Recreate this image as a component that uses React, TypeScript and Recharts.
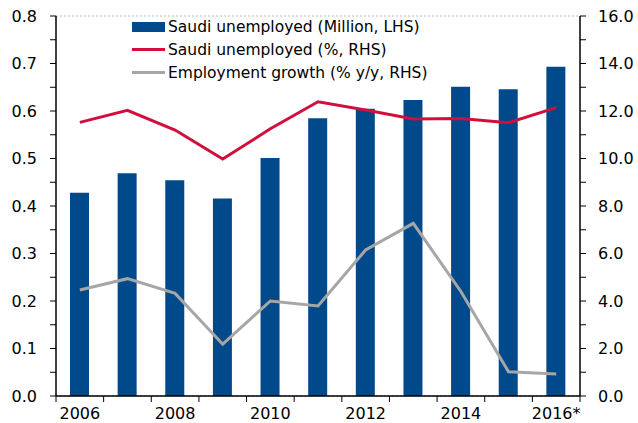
import { ComposedChart, Bar, Line, XAxis, YAxis, CartesianGrid, Legend } from 'recharts';

const years = ['2006', '2007', '2008', '2009', '2010', '2011', '2012', '2013', '2014', '2015', '2016'];
const yearLabels = ['2006', '', '2008', '', '2010', '', '2012', '', '2014', '', '2016*'];

// Saudi unemployed, million (LHS)
const unemployedMn = [0.428, 0.469, 0.454, 0.416, 0.501, 0.585, 0.605, 0.623, 0.651, 0.646, 0.693];
// Saudi unemployment rate, % (RHS)
const unemployedPct = [11.52, 12.03, 11.2, 9.98, 11.25, 12.39, 12.04, 11.66, 11.68, 11.51, 12.14];
// Employment growth, % y/y (RHS)
const employmentGrowth = [4.46, 4.94, 4.32, 2.18, 4.0, 3.79, 6.15, 7.27, 4.4, 1.02, 0.93];

const leftTicks = [0, 0.05, 0.1, 0.15, 0.2, 0.25, 0.3, 0.35, 0.4, 0.45, 0.5, 0.55, 0.6, 0.65, 0.7, 0.75, 0.8];
const rightTicks = [0, 1, 2, 3, 4, 5, 6, 7, 8, 9, 10, 11, 12, 13, 14, 15, 16];
const gridValues = [0, 0.1, 0.2, 0.3, 0.4, 0.5, 0.6, 0.7, 0.8];

const data = years.map((year, i) => ({
  year,
  unemployedMn: unemployedMn[i],
  unemployedPct: unemployedPct[i],
  employmentGrowth: employmentGrowth[i],
}));

const BLUE = '#004A8C';
const RED = '#D20F3C';
const GRAY = '#A6A6A6';
const FONT = '"DejaVu Sans", Verdana, sans-serif';

const legendItems = [
  { label: 'Saudi unemployed (Million, LHS)', color: BLUE, type: 'bar' },
  { label: 'Saudi unemployed (%, RHS)', color: RED, type: 'line' },
  { label: 'Employment growth (% y/y, RHS)', color: GRAY, type: 'line' },
];

function LeftTick(props: any) {
  const { x, y, payload, index } = props;
  if (index % 2 !== 0) return null;
  return (
    <text x={x} y={y} dy="0.36em" textAnchor="end" fontSize={16} fontFamily={FONT} fill="#000">
      {payload.value.toFixed(1)}
    </text>
  );
}

function RightTick(props: any) {
  const { x, y, payload, index } = props;
  if (index % 2 !== 0) return null;
  return (
    <text x={x} y={y} dy="0.36em" textAnchor="start" fontSize={16} fontFamily={FONT} fill="#000">
      {payload.value.toFixed(1)}
    </text>
  );
}

function YearTick(props: any) {
  const { x, y, payload, index } = props;
  const half = payload.offset || 23.8;
  const axisY = y - 12;
  return (
    <g>
      <line x1={x - half} x2={x - half} y1={axisY} y2={axisY + 6} stroke="#000" strokeWidth={1} />
      {index === years.length - 1 && (
        <line x1={x + half} x2={x + half} y1={axisY} y2={axisY + 6} stroke="#000" strokeWidth={1} />
      )}
      <text x={x} y={y} dy="0.71em" textAnchor="middle" fontSize={16} fontFamily={FONT} fill="#000">
        {yearLabels[index]}
      </text>
    </g>
  );
}

function LegendBox() {
  return (
    <div style={{ fontFamily: FONT, fontSize: 15.5, color: '#000' }}>
      {legendItems.map((item) => (
        <div key={item.label} style={{ display: 'flex', alignItems: 'center', height: 23 }}>
          <div style={{ width: 33, display: 'flex', alignItems: 'center' }}>
            <div
              style={{
                width: 33,
                height: item.type === 'bar' ? 10 : 3,
                background: item.color,
              }}
            />
          </div>
          <span style={{ marginLeft: 3, background: '#fff', whiteSpace: 'nowrap', lineHeight: '20px' }}>
            {item.label}
          </span>
        </div>
      ))}
    </div>
  );
}

export default function App() {
  return (
    <div style={{ position: 'absolute', left: 0, top: 0, background: '#fff' }}>
      <ComposedChart width={638} height={423} data={data} margin={{ top: 16, right: 0, left: 0, bottom: 0 }}>
        <CartesianGrid yAxisId="grid" vertical={false} stroke="#BDBDBD" strokeDasharray="2 2" />
        <XAxis
          dataKey="year"
          interval={0}
          height={27}
          axisLine={{ stroke: '#000', strokeWidth: 1.5 }}
          tickLine={false}
          tickSize={6}
          tickMargin={6}
          tick={<YearTick />}
        />
        <YAxis
          yAxisId="left"
          orientation="left"
          width={56}
          domain={[0, 0.8]}
          ticks={leftTicks}
          interval={0}
          axisLine={{ stroke: '#000', strokeWidth: 1.5 }}
          tickLine={{ stroke: '#000' }}
          tickSize={6}
          tickMargin={13}
          tick={<LeftTick />}
        />
        <YAxis
          yAxisId="right"
          orientation="right"
          width={58}
          domain={[0, 16]}
          ticks={rightTicks}
          interval={0}
          axisLine={{ stroke: '#000', strokeWidth: 1.5 }}
          tickLine={{ stroke: '#000' }}
          tickSize={6}
          tickMargin={12}
          tick={<RightTick />}
        />
        <YAxis yAxisId="grid" orientation="right" hide width={0} domain={[0, 0.8]} ticks={gridValues} interval={0} />
        <Legend
          layout="vertical"
          align="center"
          verticalAlign="middle"
          wrapperStyle={{ left: 132, top: 15, width: 'auto' }}
          content={<LegendBox />}
        />
        <Bar yAxisId="left" dataKey="unemployedMn" fill={BLUE} barSize={19} isAnimationActive={false} />
        <Line
          yAxisId="right"
          type="linear"
          dataKey="unemployedPct"
          stroke={RED}
          strokeWidth={3}
          dot={false}
          isAnimationActive={false}
        />
        <Line
          yAxisId="right"
          type="linear"
          dataKey="employmentGrowth"
          stroke={GRAY}
          strokeWidth={3}
          dot={false}
          isAnimationActive={false}
        />
      </ComposedChart>
    </div>
  );
}
